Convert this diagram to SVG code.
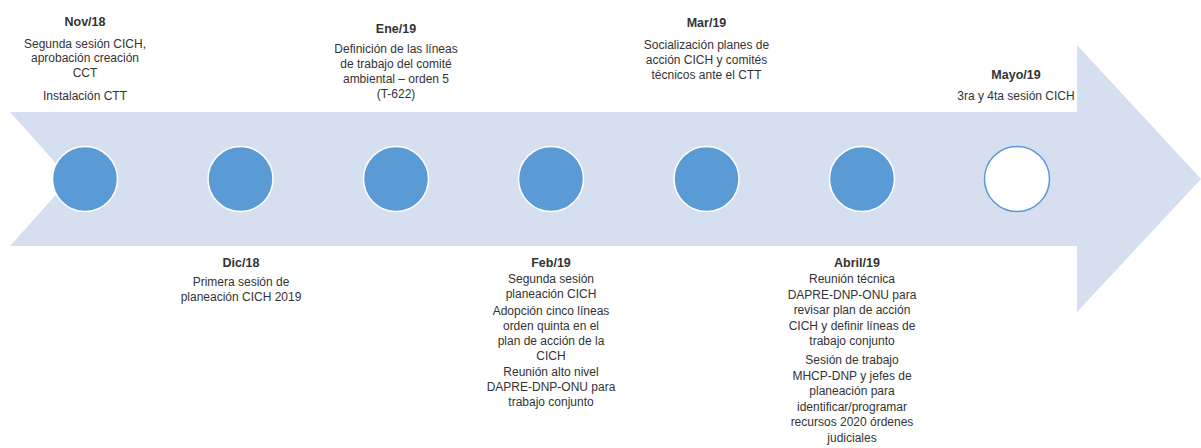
<svg xmlns="http://www.w3.org/2000/svg" width="1201" height="448" viewBox="0 0 1201 448">
<style>
.t{font-family:"Liberation Sans",Arial,sans-serif;font-size:12px;fill:#333;text-anchor:middle}
.h{font-family:"Liberation Sans",Arial,sans-serif;font-size:12.5px;font-weight:bold;fill:#333;text-anchor:middle}
.dot{fill:#5B9BD5;stroke:#fff;stroke-width:1.5}
.open{fill:#fff;stroke:#5B9BD5;stroke-width:1.5}
</style>
<rect width="1201" height="448" fill="#fff"/>
<g id="connectors">
<polygon points="10,112 1077,112 1077,45 1201,179 1077,312 1077,246 10,246 70,179" fill="#D5DFF0"/>
</g>
<g id="nov18">
<circle class="dot" cx="85" cy="179" r="32.5"/>
<text class="h" x="85" y="26">Nov/18</text>
<text class="t" x="85" y="47.5">Segunda sesión CICH,</text>
<text class="t" x="85" y="62">aprobación creación</text>
<text class="t" x="85" y="77">CCT</text>
<text class="t" x="85" y="100">Instalación CTT</text>
</g>
<g id="dic18">
<circle class="dot" cx="240.5" cy="179" r="32.5"/>
<text class="h" x="241" y="267">Dic/18</text>
<text class="t" x="241" y="286">Primera sesión de</text>
<text class="t" x="241" y="301">planeación CICH 2019</text>
</g>
<g id="ene19">
<circle class="dot" cx="396" cy="179" r="32.5"/>
<text class="h" x="396" y="33">Ene/19</text>
<text class="t" x="396" y="53">Definición de las líneas</text>
<text class="t" x="396" y="68">de trabajo del comité</text>
<text class="t" x="396" y="83">ambiental – orden 5</text>
<text class="t" x="396" y="98">(T-622)</text>
</g>
<g id="feb19">
<circle class="dot" cx="551" cy="179" r="32.5"/>
<text class="h" x="551" y="267">Feb/19</text>
<text class="t" x="551" y="283">Segunda sesión</text>
<text class="t" x="551" y="298">planeación CICH</text>
<text class="t" x="551" y="314.5">Adopción cinco líneas</text>
<text class="t" x="551" y="329.5">orden quinta en el</text>
<text class="t" x="551" y="344.5">plan de acción de la</text>
<text class="t" x="551" y="359.5">CICH</text>
<text class="t" x="551" y="376">Reunión alto nivel</text>
<text class="t" x="551" y="391">DAPRE-DNP-ONU para</text>
<text class="t" x="551" y="406">trabajo conjunto</text>
</g>
<g id="mar19">
<circle class="dot" cx="706.5" cy="179" r="32.5"/>
<text class="h" x="706.5" y="27">Mar/19</text>
<text class="t" x="706.5" y="49">Socialización planes de</text>
<text class="t" x="706.5" y="64">acción CICH y comités</text>
<text class="t" x="706.5" y="79">técnicos ante el CTT</text>
</g>
<g id="abr19">
<circle class="dot" cx="862" cy="179" r="32.5"/>
<text class="h" x="857" y="267">Abril/19</text>
<text class="t" x="852" y="283">Reunión técnica</text>
<text class="t" x="852" y="298.5">DAPRE-DNP-ONU para</text>
<text class="t" x="852" y="314">revisar plan de acción</text>
<text class="t" x="852" y="329.5">CICH y definir líneas de</text>
<text class="t" x="852" y="345">trabajo conjunto</text>
<text class="t" x="852" y="364">Sesión de trabajo</text>
<text class="t" x="852" y="379.5">MHCP-DNP y jefes de</text>
<text class="t" x="852" y="395">planeación para</text>
<text class="t" x="852" y="410.5">identificar/programar</text>
<text class="t" x="852" y="426">recursos 2020 órdenes</text>
<text class="t" x="852" y="441.5">judiciales</text>
</g>
<g id="may19">
<circle class="open" cx="1017" cy="179" r="32.5"/>
<text class="h" x="1016" y="79">Mayo/19</text>
<text class="t" x="1016" y="100">3ra y 4ta sesión CICH</text>
</g>
</svg>
